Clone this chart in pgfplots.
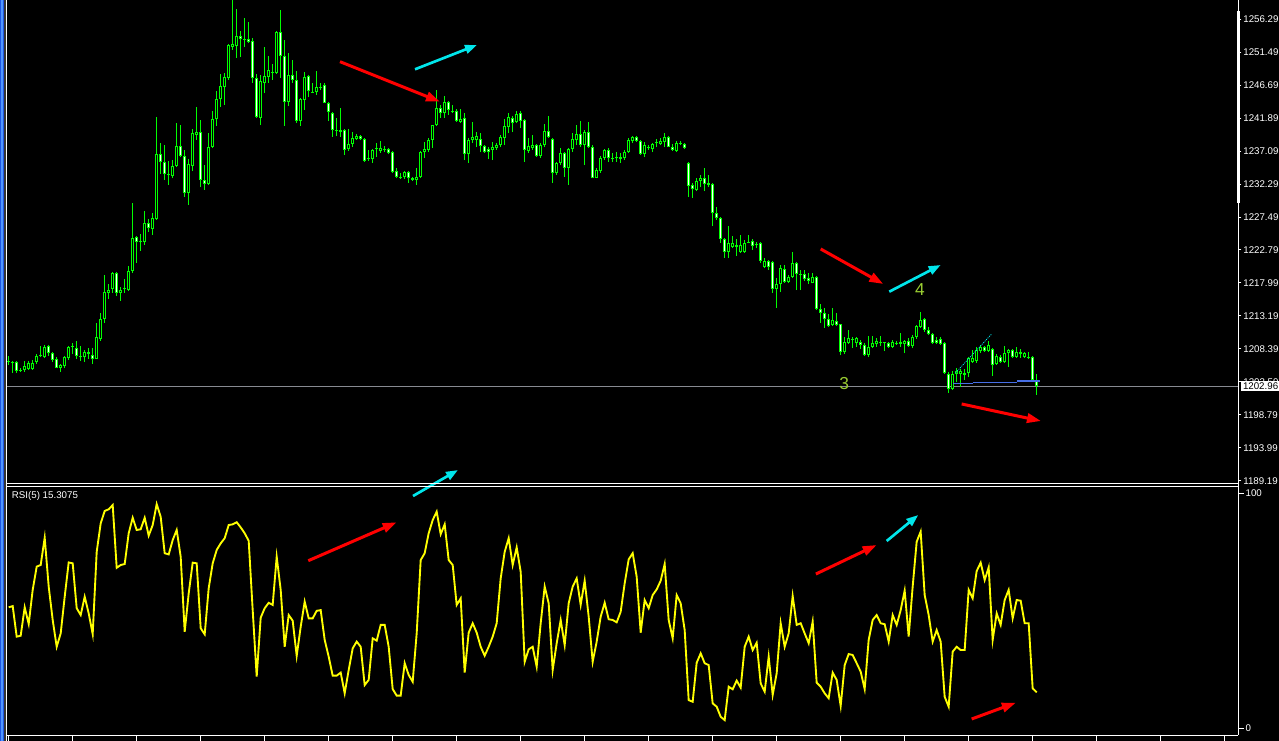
\documentclass[border=0pt]{standalone}
\usepackage{pgfplots}
\pgfplotsset{compat=1.18}
\usepackage{pgfplotstable}
\usepackage{fontspec}
\setmainfont{Liberation Sans}
\usetikzlibrary{arrows.meta}
\definecolor{cgreen}{RGB}{0,255,0}
\definecolor{ccyan}{RGB}{0,230,235}
\definecolor{cred}{RGB}{255,0,0}
\definecolor{colive}{RGB}{154,205,50}
\definecolor{cblue}{RGB}{70,110,230}
\definecolor{cprice}{RGB}{135,138,145}
\definecolor{stripe}{RGB}{30,85,225}
\definecolor{stripelight}{RGB}{80,150,255}
\definecolor{cyel}{RGB}{255,255,0}

\pgfplotstableread{
i o h l c
0 1206.45 1207.33 1206.02 1206.60
1 1206.45 1206.53 1204.85 1206.30
2 1206.45 1206.60 1204.85 1205.15
3 1205.29 1205.58 1205.00 1205.14
4 1205.29 1206.60 1205.00 1205.87
5 1205.44 1206.60 1205.29 1206.31
6 1205.44 1206.75 1205.36 1206.31
7 1206.45 1207.62 1206.16 1207.33
8 1207.33 1208.78 1207.18 1207.48
9 1207.18 1208.93 1207.04 1208.64
10 1208.78 1208.93 1207.33 1207.76
11 1207.76 1207.91 1206.45 1206.75
12 1206.89 1207.18 1205.51 1205.58
13 1205.58 1206.09 1205.00 1206.02
14 1205.87 1207.33 1205.58 1207.18
15 1207.04 1208.78 1206.75 1208.64
16 1208.64 1209.22 1207.62 1208.79
17 1208.49 1209.51 1206.89 1207.33
18 1207.18 1208.78 1206.60 1207.33
19 1207.18 1208.20 1206.45 1207.91
20 1207.91 1208.49 1206.89 1207.62
21 1207.47 1208.49 1206.16 1206.89
22 1206.89 1212.13 1206.82 1210.09
23 1209.80 1213.58 1209.51 1212.71
24 1212.71 1219.11 1212.13 1216.63
25 1216.49 1217.80 1215.62 1216.92
26 1217.07 1219.54 1216.49 1219.40
27 1219.40 1219.47 1216.05 1216.49
28 1216.49 1217.36 1215.33 1216.92
29 1217.00 1218.53 1216.49 1217.15
30 1216.92 1220.42 1216.78 1219.69
31 1219.69 1229.58 1219.40 1224.49
32 1224.63 1224.78 1220.85 1223.91
33 1223.91 1225.07 1222.60 1224.06
34 1223.91 1228.41 1223.47 1226.67
35 1226.67 1227.25 1225.36 1225.94
36 1225.80 1228.12 1224.92 1227.40
37 1227.25 1242.08 1227.11 1236.70
38 1236.70 1238.30 1233.79 1235.54
39 1235.54 1238.01 1232.92 1233.79
40 1233.79 1235.69 1232.20 1233.64
41 1233.50 1235.83 1233.21 1234.96
42 1234.96 1241.21 1234.81 1237.87
43 1237.87 1240.92 1236.27 1236.41
44 1236.41 1237.29 1230.45 1231.03
45 1231.03 1235.98 1229.29 1235.25
46 1234.96 1240.34 1234.23 1239.76
47 1239.47 1243.54 1238.74 1239.90
48 1239.90 1241.65 1231.90 1232.92
49 1232.92 1235.10 1231.47 1232.34
50 1232.34 1239.76 1232.20 1237.72
51 1237.72 1242.96 1237.58 1241.79
52 1241.79 1245.87 1240.78 1244.70
53 1244.70 1248.34 1243.54 1246.59
54 1246.45 1248.48 1243.83 1247.90
55 1247.76 1252.70 1247.47 1252.56
56 1252.26 1259.39 1251.83 1252.70
57 1252.41 1257.79 1250.67 1253.86
58 1253.86 1254.59 1250.81 1253.43
59 1253.43 1256.48 1252.26 1253.28
60 1253.43 1255.90 1252.85 1252.99
61 1253.14 1253.57 1247.03 1247.76
62 1247.76 1248.34 1241.94 1242.08
63 1241.94 1248.19 1240.92 1247.32
64 1247.03 1252.26 1245.57 1248.05
65 1247.90 1250.96 1247.03 1248.92
66 1248.70 1249.79 1247.47 1248.55
67 1248.48 1254.66 1248.41 1254.45
68 1254.45 1257.65 1247.76 1250.96
69 1250.96 1253.28 1240.78 1244.27
70 1244.27 1251.39 1243.68 1248.19
71 1248.19 1250.37 1247.03 1247.47
72 1247.47 1248.77 1241.21 1241.50
73 1241.50 1244.78 1240.78 1244.70
74 1244.56 1248.63 1243.10 1247.90
75 1248.05 1248.19 1244.99 1245.87
76 1245.76 1247.03 1245.57 1245.61
77 1245.72 1248.77 1245.28 1246.45
78 1246.45 1247.03 1246.01 1246.30
79 1246.74 1247.03 1244.05 1244.12
80 1244.12 1244.27 1241.50 1242.81
81 1242.67 1242.74 1239.18 1240.19
82 1240.19 1241.94 1239.32 1240.04
83 1240.19 1243.39 1239.18 1239.90
84 1240.19 1240.34 1236.56 1237.29
85 1237.43 1240.34 1237.21 1238.16
86 1238.16 1239.90 1237.72 1239.03
87 1238.88 1239.61 1238.74 1239.32
88 1239.32 1239.47 1238.67 1238.88
89 1238.88 1239.03 1235.54 1235.69
90 1235.93 1237.29 1235.69 1236.08
91 1235.98 1237.43 1235.40 1237.29
92 1237.39 1238.30 1236.27 1237.54
93 1237.14 1238.59 1236.85 1237.58
94 1237.43 1237.87 1236.99 1237.28
95 1237.43 1237.58 1236.70 1236.85
96 1236.99 1237.07 1234.01 1234.09
97 1234.23 1234.67 1233.21 1233.36
98 1233.36 1233.94 1233.07 1233.21
99 1233.36 1234.23 1233.07 1234.09
100 1234.09 1234.23 1232.49 1233.21
101 1233.21 1233.36 1232.78 1232.92
102 1232.92 1234.67 1232.20 1233.36
103 1233.36 1237.14 1233.21 1236.99
104 1236.99 1238.45 1236.12 1237.43
105 1237.29 1239.03 1236.99 1238.74
106 1238.74 1240.99 1237.58 1240.92
107 1240.92 1246.01 1240.78 1243.39
108 1243.39 1243.83 1241.94 1242.67
109 1242.67 1245.14 1241.94 1244.27
110 1244.27 1244.41 1242.38 1243.10
111 1243.00 1243.83 1242.67 1242.85
112 1242.96 1243.25 1241.36 1241.50
113 1241.36 1243.25 1241.21 1241.79
114 1241.94 1242.67 1235.83 1236.70
115 1236.70 1239.03 1235.40 1238.74
116 1238.74 1241.36 1238.30 1239.18
117 1238.74 1239.90 1237.72 1239.32
118 1238.88 1239.76 1236.99 1237.87
119 1237.87 1238.01 1236.85 1236.99
120 1237.43 1237.72 1235.98 1236.99
121 1237.29 1238.45 1235.83 1237.72
122 1237.58 1238.30 1237.29 1238.01
123 1238.01 1239.47 1237.72 1239.18
124 1239.03 1241.79 1238.01 1240.78
125 1240.63 1242.67 1239.76 1242.08
126 1241.94 1242.23 1239.90 1241.21
127 1241.36 1242.96 1241.21 1242.52
128 1242.67 1242.96 1240.48 1241.50
129 1241.65 1241.79 1235.54 1237.29
130 1237.14 1239.03 1236.85 1237.87
131 1237.58 1239.47 1237.29 1238.01
132 1238.01 1238.16 1236.27 1236.41
133 1236.41 1238.30 1236.12 1238.01
134 1238.01 1241.07 1237.72 1240.05
135 1240.05 1242.23 1239.03 1239.18
136 1238.88 1239.03 1232.49 1233.94
137 1233.94 1235.54 1233.65 1235.40
138 1235.40 1237.58 1235.10 1236.85
139 1236.85 1236.99 1233.36 1234.67
140 1234.67 1237.58 1232.20 1237.43
141 1237.43 1239.76 1236.99 1238.88
142 1238.74 1240.92 1238.01 1239.61
143 1239.61 1241.50 1237.72 1238.01
144 1238.01 1240.19 1235.10 1239.90
145 1239.90 1241.36 1237.58 1237.72
146 1237.72 1238.01 1233.14 1233.21
147 1233.21 1234.67 1233.14 1234.38
148 1234.23 1236.41 1233.94 1236.12
149 1236.12 1237.43 1235.83 1237.29
150 1237.29 1237.58 1235.54 1236.12
151 1236.12 1236.85 1235.54 1235.97
152 1236.08 1236.99 1235.54 1236.23
153 1235.98 1236.85 1235.40 1236.27
154 1236.12 1237.29 1235.83 1236.99
155 1236.99 1239.03 1236.85 1238.74
156 1238.59 1239.32 1238.30 1239.18
157 1239.18 1239.32 1238.45 1238.59
158 1238.59 1238.74 1236.56 1236.70
159 1236.70 1238.45 1236.27 1238.01
160 1237.72 1238.01 1237.29 1237.57
161 1237.43 1238.30 1236.99 1238.16
162 1238.26 1238.88 1237.72 1238.41
163 1238.16 1239.03 1238.01 1238.59
164 1238.45 1239.76 1237.72 1239.18
165 1239.18 1239.32 1237.65 1237.72
166 1237.72 1238.16 1237.14 1237.29
167 1237.14 1238.59 1236.99 1238.30
168 1238.30 1238.59 1238.01 1238.15
169 1238.16 1238.30 1237.43 1237.58
170 1235.40 1235.47 1230.45 1232.05
171 1232.20 1232.49 1230.31 1231.61
172 1231.47 1233.21 1231.32 1232.78
173 1232.78 1233.65 1231.90 1233.21
174 1233.21 1234.67 1231.32 1232.34
175 1232.49 1233.65 1231.90 1232.20
176 1232.34 1232.49 1226.23 1228.12
177 1228.12 1228.99 1227.11 1227.40
178 1227.40 1227.54 1223.76 1224.34
179 1224.34 1224.49 1221.58 1222.45
180 1222.45 1226.23 1221.58 1223.76
181 1223.18 1224.78 1223.03 1223.76
182 1223.18 1224.34 1221.87 1223.47
183 1222.45 1224.92 1222.31 1223.47
184 1222.45 1224.20 1222.31 1223.76
185 1223.91 1224.92 1223.70 1223.76
186 1224.05 1224.34 1222.74 1223.32
187 1223.43 1223.91 1223.03 1223.58
188 1223.76 1223.91 1220.85 1221.14
189 1220.27 1221.58 1220.12 1221.14
190 1221.14 1221.29 1219.84 1220.27
191 1221.00 1221.14 1216.49 1217.07
192 1217.07 1218.67 1214.31 1217.80
193 1217.80 1220.56 1216.63 1220.12
194 1219.98 1220.56 1217.94 1218.09
195 1218.09 1219.11 1217.94 1218.82
196 1218.82 1222.45 1218.67 1220.85
197 1220.85 1221.00 1216.92 1219.25
198 1219.25 1219.84 1216.92 1219.10
199 1219.25 1219.84 1218.24 1218.53
200 1218.67 1219.40 1217.80 1218.24
201 1217.94 1219.40 1217.87 1218.82
202 1218.82 1218.96 1214.02 1214.16
203 1214.16 1214.89 1212.13 1213.58
204 1213.58 1214.31 1211.40 1212.71
205 1212.71 1213.44 1211.54 1211.69
206 1211.84 1214.31 1211.69 1212.56
207 1212.42 1213.58 1211.69 1211.84
208 1211.98 1212.05 1207.47 1207.91
209 1207.91 1210.09 1207.62 1209.36
210 1209.22 1211.11 1209.14 1209.94
211 1209.80 1210.09 1208.49 1209.65
212 1209.22 1210.09 1208.64 1209.94
213 1209.36 1209.65 1208.34 1208.93
214 1208.93 1209.22 1207.33 1207.47
215 1207.47 1210.24 1207.18 1208.64
216 1208.64 1210.24 1208.49 1209.22
217 1209.07 1209.94 1208.64 1209.51
218 1209.36 1210.24 1208.78 1209.21
219 1209.17 1209.36 1208.05 1209.32
220 1209.22 1209.36 1208.56 1208.64
221 1208.64 1209.65 1208.49 1209.36
222 1209.22 1209.51 1208.93 1209.07
223 1209.36 1210.67 1208.64 1209.07
224 1209.07 1209.65 1207.76 1209.51
225 1209.51 1209.94 1208.64 1208.78
226 1208.78 1210.38 1208.49 1210.09
227 1210.09 1211.84 1209.80 1211.69
228 1211.54 1213.73 1211.40 1212.56
229 1212.71 1212.85 1210.82 1211.11
230 1211.11 1211.54 1210.38 1210.53
231 1210.53 1210.67 1209.07 1209.22
232 1209.65 1210.09 1209.07 1209.22
233 1209.80 1210.09 1208.93 1209.07
234 1209.22 1209.29 1204.71 1204.85
235 1204.71 1205.00 1201.95 1202.53
236 1202.53 1205.15 1202.38 1204.71
237 1204.71 1205.58 1203.55 1205.15
238 1204.71 1205.44 1202.82 1205.15
239 1204.56 1205.44 1203.84 1204.85
240 1204.85 1207.18 1204.27 1207.04
241 1206.45 1208.20 1206.31 1207.04
242 1206.60 1208.64 1206.31 1208.20
243 1208.05 1208.93 1207.76 1208.64
244 1208.64 1208.71 1207.91 1208.05
245 1208.05 1209.51 1207.91 1208.93
246 1208.34 1208.49 1204.42 1206.02
247 1206.16 1207.62 1206.02 1207.33
248 1207.18 1207.47 1206.31 1206.45
249 1206.45 1208.78 1206.31 1207.76
250 1207.76 1208.34 1205.73 1208.20
251 1208.20 1208.34 1207.04 1207.18
252 1207.18 1208.64 1207.04 1207.91
253 1207.62 1208.34 1207.04 1207.91
254 1207.18 1207.91 1207.04 1207.76
255 1207.18 1207.91 1206.89 1207.03
256 1207.18 1207.33 1203.55 1203.84
257 1203.84 1204.71 1201.66 1202.96
}\candles

\pgfplotstableread{
i r
0 51.5
1 52.0
2 39.0
3 39.4
4 51.5
5 44.4
6 58.9
7 68.8
8 69.5
9 81.1
10 60.3
11 46.1
12 34.7
13 40.4
14 56.0
15 70.6
16 70.2
17 51.1
18 48.2
19 56.0
20 48.9
21 40.1
22 75.1
23 87.2
24 92.5
25 93.2
26 95.0
27 68.3
28 69.5
29 69.9
30 83.0
31 89.6
32 84.4
33 84.7
34 89.6
35 82.0
36 86.5
37 95.4
38 90.0
39 74.5
40 74.0
41 80.1
42 84.4
43 73.0
44 41.1
45 57.4
46 70.5
47 70.2
48 42.6
49 40.0
50 59.6
51 70.2
52 75.9
53 78.7
54 80.9
55 86.5
56 86.8
57 87.7
58 85.5
59 83.0
60 79.8
61 50.3
62 22.0
63 47.1
64 51.1
65 53.4
66 52.5
67 73.0
68 58.9
69 34.7
70 48.2
71 45.8
72 30.8
73 43.2
74 53.9
75 46.8
76 46.8
77 50.0
78 50.3
79 37.6
80 30.5
81 22.4
82 22.4
83 23.7
84 14.9
85 24.8
86 34.0
87 36.9
88 34.7
89 18.4
90 20.6
91 38.3
92 37.3
93 44.0
94 44.0
95 34.7
96 16.7
97 13.9
98 13.9
99 27.7
100 22.7
101 19.8
102 40.4
103 71.6
104 74.5
105 83.0
106 88.6
107 92.2
108 82.6
109 86.8
110 71.6
111 69.5
112 52.5
113 55.3
114 23.7
115 40.7
116 44.7
117 40.7
118 34.7
119 30.9
120 34.7
121 39.0
122 44.7
123 63.8
124 75.1
125 80.9
126 69.5
127 77.0
128 66.6
129 28.3
130 33.6
131 34.7
132 26.2
133 44.7
134 60.3
135 53.2
136 24.8
137 36.2
138 46.1
139 35.4
140 53.2
141 60.3
142 63.8
143 52.5
144 62.8
145 47.5
146 28.3
147 36.9
148 47.5
149 53.4
150 46.4
151 46.1
152 45.1
153 49.6
154 61.7
155 71.9
156 74.5
157 64.5
158 40.7
159 54.6
160 51.1
161 56.7
162 59.1
163 62.8
164 69.9
165 46.1
166 38.3
167 56.7
168 53.2
169 41.8
170 12.0
171 11.3
172 27.9
173 31.9
174 27.7
175 26.9
176 10.6
177 9.2
178 4.9
179 3.5
180 17.7
181 16.6
182 20.3
183 17.3
184 34.7
185 39.0
186 33.3
187 36.4
188 19.1
189 15.6
190 30.5
191 14.2
192 23.4
193 44.7
194 34.7
195 40.4
196 56.3
197 44.0
198 44.7
199 40.4
200 36.2
201 45.4
202 19.4
203 17.7
204 14.9
205 12.8
206 23.7
207 20.6
208 9.5
209 26.9
210 31.6
211 31.2
212 27.7
213 24.1
214 16.7
215 37.6
216 46.1
217 48.2
218 44.7
219 44.3
220 36.9
221 48.2
222 44.0
223 50.3
224 58.6
225 39.0
226 60.3
227 79.4
228 83.7
229 56.7
230 48.2
231 36.9
232 41.8
233 36.9
234 13.4
235 9.2
236 32.6
237 34.7
238 33.3
239 33.3
240 58.9
241 55.3
242 66.9
243 70.5
244 63.1
245 68.5
246 37.6
247 48.9
248 44.0
249 54.6
250 58.9
251 46.8
252 54.6
253 54.3
254 44.7
255 44.7
256 17.0
257 15.31
}\rsi

\tikzset{
  redarrow/.style={cred, line width=2.25pt, -{Triangle[length=10.5pt,width=7pt]}},
  cyanarrow/.style={ccyan, line width=2pt, -{Triangle[length=9pt,width=6.5pt]}}
}

\pgfplotsset{
  mt/.style={scale only axis, width=923.6pt, xmin=-0.425, xmax=307.45,
    axis line style={draw=none}, tick align=outside, major tick length=2.25pt,
    tick style={white, line width=0.75pt},
    ticklabel style={font=\fontsize{7.3}{8}\selectfont, text=white},
    ytick pos=right, yticklabel pos=right,
    yticklabel style={anchor=west, inner sep=0pt, xshift=1.2pt},
    clip mode=individual},
  wick/.style={cgreen, line width=0.75pt, quiver={u=0, v=\thisrow{h}-\thisrow{l}}},
  body/.style={cgreen, line width=2.5pt, quiver={u=0, v=\thisrow{c}-\thisrow{o}}},
  bearin/.style={white, line width=1.05pt,
    quiver={u=0, v=\thisrow{c}-\thisrow{o}, every arrow/.append style={shorten <=0.7pt, shorten >=0.7pt}},
    unbounded coords=discard, y filter/.expression={(\thisrow{o}-\thisrow{c}>0.3) ? y : nan}},
  bullin/.style={black, line width=0.9pt,
    quiver={u=0, v=\thisrow{c}-\thisrow{o}, every arrow/.append style={shorten <=0.7pt, shorten >=0.7pt}},
    unbounded coords=discard, y filter/.expression={(\thisrow{c}-\thisrow{o}>0.3) ? y : nan}}
}

\begin{document}
\begin{tikzpicture}
\path[use as bounding box] (0,0) rectangle (959.25pt,-555.75pt);
\clip (0,0) rectangle (959.25pt,-555.75pt);
\fill[black] (0,0) rectangle (959.25pt,-555.75pt);
\fill[stripe] (0,0) rectangle (3.3pt,-555.75pt);
\fill[stripelight] (1pt,0) rectangle (2.1pt,-555.75pt);
\fill[black!60!gray] (3.3pt,0) rectangle (4.4pt,-555.75pt);

\begin{axis}[mt, at={(5.25pt,0pt)}, anchor=north west, height=363pt,
  ymin=1188.71, ymax=1259.10, xtick=\empty,
  ytick={1256.29,1251.49,1246.69,1241.89,1237.09,1232.29,1227.49,1222.79,1217.99,1213.19,1208.39,1203.59,1198.79,1193.99,1189.19},
  yticklabels={1256.29,1251.49,1246.69,1241.89,1237.09,1232.29,1227.49,1222.79,1217.99,1213.19,1208.39,1203.59,1198.79,1193.99,1189.19}]
 \draw[cprice, line width=0.75pt] (axis cs:-0.425,1202.96) -- (axis cs:307.45,1202.96);
 \addplot[wick] table[x=i,y=l]{\candles};
 \addplot[body] table[x=i,y=o]{\candles};
 \addplot[bearin] table[x=i,y=o]{\candles};
 \addplot[bullin] table[x=i,y=o]{\candles};
 \coordinate (pricept) at (axis cs:307.45,1202.96);
 % objects
 \draw[cblue, line width=0.9pt] (axis cs:236.08,1203.36) -- (axis cs:241.08,1203.36);
 \draw[cblue, line width=0.9pt] (axis cs:241.08,1203.50) -- (axis cs:252.08,1203.50);
 \draw[cblue, line width=0.9pt] (axis cs:252.08,1203.69) -- (axis cs:257.83,1203.69);
 \draw[ccyan, line width=0.6pt, dash pattern=on 0.8pt off 0.8pt] (axis cs:236.75,1204.90) -- (axis cs:245.75,1210.53);
 \draw[redarrow] (axis cs:82.825,1250.13) -- (axis cs:107.825,1244.31);
 \draw[cyanarrow] (axis cs:101.575,1249.02) -- (axis cs:117.075,1252.56);
 \draw[redarrow] (axis cs:203.0,1222.89) -- (axis cs:218.65,1217.80);
 \draw[cyanarrow] (axis cs:220.15,1216.68) -- (axis cs:233.0,1220.56);
 \draw[redarrow] (axis cs:238.25,1200.35) -- (axis cs:258.075,1197.87);
 \node[colive, font=\fontsize{13}{15}\selectfont] at (axis cs:208.9,1203.36) {3};
 \node[colive, font=\fontsize{13}{15}\selectfont] at (axis cs:227.8,1216.93) {4};
\end{axis}

\begin{axis}[mt, at={(5.25pt,-364.875pt)}, anchor=north west, height=186.75pt,
  ymin=-3.06, ymax=102.9, xtick={0,16,...,304}, xticklabels={}, xtick pos=bottom,
  major tick length=4pt,
  ytick={0,100}, yticklabels={0,100}]
 \addplot[cyel, line width=1.4pt] table[x=i,y=r]{\rsi};
 \node[anchor=north west, inner sep=0pt, text=white, font=\fontsize{7.3}{8}\selectfont] at ([xshift=3.5pt,yshift=-3.6pt]rel axis cs:0,1) {RSI(5) 15.3075};
 \draw[cyanarrow] (axis cs:101.08,98.85) -- (axis cs:112.33,109.91);
 \draw[redarrow] (axis cs:74.9,71.32) -- (axis cs:97.0,87.66);
 \draw[redarrow] (axis cs:201.8,65.66) -- (axis cs:217.0,78.0);
 \draw[cyanarrow] (axis cs:219.5,79.7) -- (axis cs:227.4,90.77);
 \draw[redarrow] (axis cs:240.75,3.96) -- (axis cs:251.8,10.89);
\end{axis}

% frame lines
\draw[white, line width=0.75pt] (5.0pt,0) -- (5.0pt,-555.75pt);
\draw[white, line width=0.75pt] (928.85pt,0) -- (928.85pt,-551.6pt);
\fill[white] (927.8pt,-8.2pt) rectangle (929.9pt,-152.2pt);
\draw[white, line width=0.75pt] (5pt,-363pt) -- (928.85pt,-363pt);
\draw[white, line width=0.75pt] (5pt,-364.875pt) -- (928.85pt,-364.875pt);
\draw[white, line width=0.75pt] (5pt,-551.6pt) -- (928.85pt,-551.6pt);
\node[fill=white, text=black, inner xsep=1.3pt, inner ysep=0pt, minimum height=7.5pt, anchor=west, font=\fontsize{7.3}{8}\selectfont] at ([xshift=1.9pt]pricept) {1202.96};
\end{tikzpicture}
\end{document}
